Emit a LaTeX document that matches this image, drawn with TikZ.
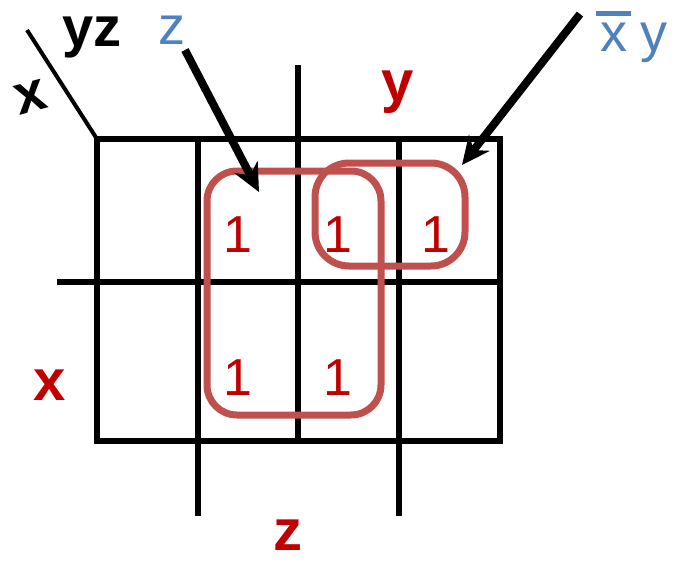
\documentclass[tikz,border=0pt]{standalone}
\usepackage{fontspec}
\setmainfont{Liberation Sans}
\usepackage{tikz}
\usetikzlibrary{arrows.meta}
\definecolor{loopred}{HTML}{C0504D}
\definecolor{termred}{HTML}{C00000}
\definecolor{labelblue}{HTML}{4F81BD}
\newcommand{\barredx}{\rlap{\hspace*{-4pt}\rule[35pt]{35pt}{5pt}}x}
\tikzset{
  gridline/.style={line width=5.5pt, line cap=rect},
  groupbox/.style={draw=loopred, line width=7pt, rounded corners=30pt},
  one/.style={text=termred, font=\fontsize{52}{52}\selectfont, inner sep=0pt},
  varlabel/.style={text=termred, font=\fontsize{58}{58}\selectfont\bfseries, inner sep=0pt},
  headlabel/.style={font=\fontsize{56}{56}\selectfont\bfseries, inner sep=0pt},
  termlabel/.style={text=labelblue, font=\fontsize{54}{54}\selectfont, inner sep=0pt},
  pointer/.style={line width=8pt, -{Stealth[length=28pt,width=26pt]}}
}
\begin{document}
\begin{tikzpicture}[x=1pt,y=-1pt]
  \useasboundingbox (0,0) rectangle (673,563);

  % map outline and cell lines
  \draw[gridline] (97,139) rectangle (500,441);
  \draw[gridline] (198,139) -- (198,513);
  \draw[gridline] (399,139) -- (399,513);
  \draw[gridline] (298,68) -- (298,441);
  \draw[gridline] (60,282) -- (500,282);
  \draw[line width=4pt] (27,30) -- (97,139);

  % corner and side labels
  \node[headlabel] (yzhead) at (92,38) {yz};
  \node[headlabel, rotate=15] (xhead) at (31,97) {x};
  \node[varlabel] (ylab) at (398,92) {y};
  \node[varlabel] (xlab) at (50,385) {x};
  \node[varlabel] (zlab) at (288,535) {z};

  % cell entries
  \node[one] (m3) at (238,235) {1};
  \node[one] (m2) at (338,235) {1};
  \node[one] (m6) at (436,235) {1};
  \node[one] (m7) at (238,378) {1};
  \node[one] (m5) at (338,378) {1};

  % groups
  \draw[groupbox] (207,171) rectangle (381,415);
  \draw[groupbox, rounded corners=34pt] (315,163) rectangle (465,266);

  % group terms
  \node[termlabel, anchor=base] (zterm) at (172,44) {z};
  \node[termlabel, anchor=base west] (xyterm) at (600,51) {\barredx\hspace{13pt}y};

  \coordinate (zstart) at (185,50);
  \coordinate (zend) at (259,192);
  \coordinate (xystart) at (580,14);
  \coordinate (xyend) at (462,165);
  \draw[pointer] (zstart) -- (zend);
  \draw[pointer] (xystart) -- (xyend);
\end{tikzpicture}
\end{document}
